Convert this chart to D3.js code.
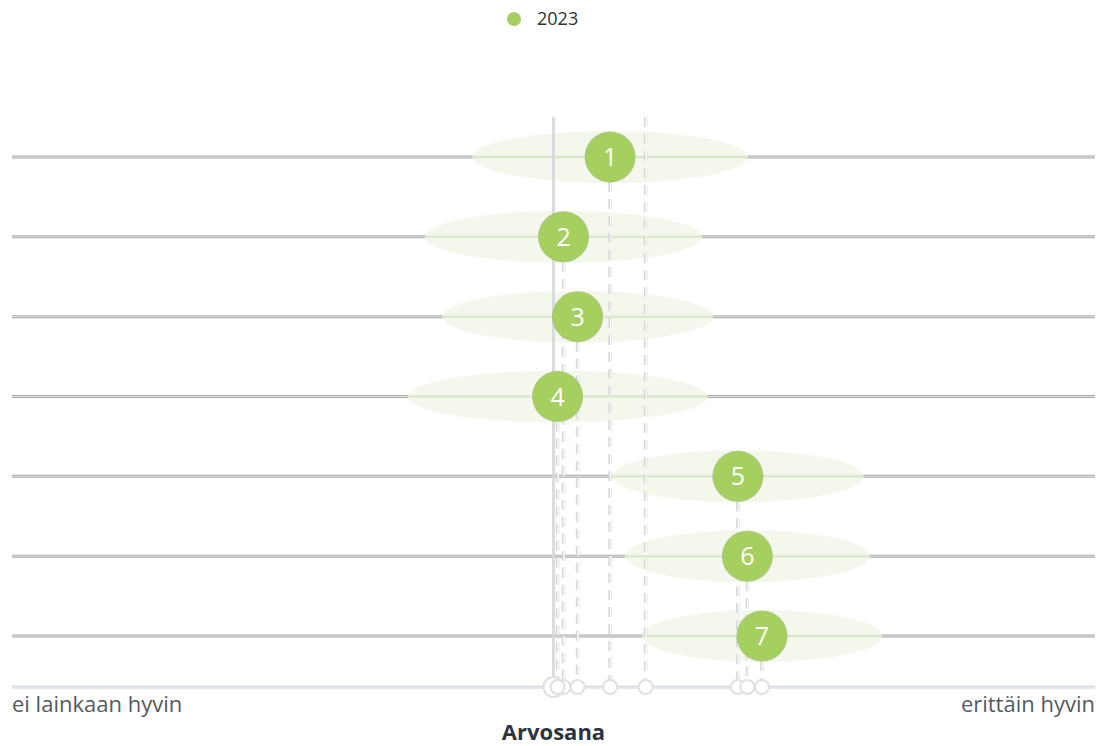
<!DOCTYPE html>
<html>
<head>
<meta charset="utf-8">
<script src="https://cdn.jsdelivr.net/npm/d3@7"></script>
<style>
  body { margin: 0; background: #fff; font-family: "Open Sans", sans-serif; }
</style>
</head>
<body>
<div id="chart"></div>
<script>
// data
var rows = ["1", "2", "3", "4", "5", "6", "7"];
var means = [3.209, 3.037, 3.089, 3.015, 3.681, 3.716, 3.770];
var spreads = [0.508, 0.512, 0.500, 0.554, 0.464, 0.452, 0.443];
var midValue = 3;
var averageValue = 3.34;
var seriesName = "2023";
var scaleLabels = ["ei lainkaan hyvin", "erittäin hyvin"];
var axisTitle = "Arvosana";

var width = 1097, height = 746;
var green = "#a5cf5f";

var svg = d3.select("#chart").append("svg")
  .attr("width", width)
  .attr("height", height);

var x = d3.scaleLinear().domain([1, 5]).range([12, 1095]);
var y = d3.scalePoint().domain(rows).range([157, 636]);
var axisY = 687, topY = 117;

var data = rows.map(function(r, i){
  return { row: r, mean: means[i], spread: spreads[i] };
});

// legend
svg.append("circle").attr("cx", 514).attr("cy", 19).attr("r", 7).attr("fill", green);
svg.append("text").attr("x", 537).attr("y", 25)
  .style("font-size", "18px").style("fill", "#333")
  .text(seriesName);

// row lines
var rowLines = svg.append("g");
rowLines.selectAll("line.outer").data(data).enter().append("line")
  .attr("x1", x(1)).attr("x2", x(5))
  .attr("y1", function(d){ return y(d.row); })
  .attr("y2", function(d){ return y(d.row); })
  .attr("stroke", "#a8aaac").attr("stroke-width", 3);
rowLines.selectAll("line.inner").data(data).enter().append("line")
  .attr("x1", x(1)).attr("x2", x(5))
  .attr("y1", function(d){ return y(d.row); })
  .attr("y2", function(d){ return y(d.row); })
  .attr("stroke", "#e4e4e4").attr("stroke-width", 1);

// bottom axis line
svg.append("line").attr("x1", x(1)).attr("x2", x(5)).attr("y1", axisY).attr("y2", axisY)
  .attr("stroke", "#d0d6da").attr("stroke-width", 3);
svg.append("line").attr("x1", x(1)).attr("x2", x(5)).attr("y1", axisY).attr("y2", axisY)
  .attr("stroke", "#eef1f3").attr("stroke-width", 1);

// spread ellipses
svg.selectAll("ellipse").data(data).enter().append("ellipse")
  .attr("cx", function(d){ return x(d.mean); })
  .attr("cy", function(d){ return y(d.row); })
  .attr("rx", function(d){ return x(d.mean + d.spread) - x(d.mean); })
  .attr("ry", 26)
  .attr("fill", "#f3f8eb")
  .attr("opacity", 0.95);

svg.selectAll("line.inrange").data(data).enter().append("line")
  .attr("x1", function(d){ return x(d.mean - d.spread); })
  .attr("x2", function(d){ return x(d.mean + d.spread); })
  .attr("y1", function(d){ return y(d.row); })
  .attr("y2", function(d){ return y(d.row); })
  .attr("stroke", "#d8e8c6").attr("stroke-width", 2);

// reference lines
svg.append("line").attr("x1", x(midValue)).attr("x2", x(midValue))
  .attr("y1", topY).attr("y2", axisY)
  .attr("stroke", "#d6dadd").attr("stroke-width", 3).attr("opacity", 0.9);

function dashed(xv, y1){
  svg.append("line").attr("x1", x(xv)).attr("x2", x(xv))
    .attr("y1", y1).attr("y2", axisY)
    .attr("stroke", "#cfd3d7").attr("stroke-width", 3.5)
    .attr("stroke-dasharray", "10,7").attr("opacity", 0.9);
  svg.append("line").attr("x1", x(xv) + 0.5).attr("x2", x(xv) + 0.5)
    .attr("y1", y1).attr("y2", axisY)
    .attr("stroke", "#fafafa").attr("stroke-width", 1.5)
    .attr("stroke-dasharray", "10,7");
}
dashed(averageValue, topY);
data.forEach(function(d){ dashed(d.mean, y(d.row) + 25); });

// bottom markers
svg.append("circle").attr("cx", x(midValue)).attr("cy", axisY).attr("r", 10)
  .attr("fill", "#fff").attr("stroke", "#dde1e4").attr("stroke-width", 2);
var marks = means.concat([averageValue]);
svg.selectAll("circle.mark").data(marks).enter().append("circle")
  .attr("cx", function(d){ return x(d); })
  .attr("cy", axisY).attr("r", 7)
  .attr("fill", "#fff").attr("stroke", "#dde1e4").attr("stroke-width", 2);

// mean circles
var g = svg.selectAll("g.pt").data(data).enter().append("g")
  .attr("transform", function(d){ return "translate(" + x(d.mean) + "," + y(d.row) + ")"; });
g.append("circle").attr("r", 25.5).attr("fill", "#7f9060").attr("opacity", 0.5);
g.append("circle").attr("r", 25).attr("fill", green);
g.append("text").attr("text-anchor", "middle").attr("dy", "0.36em")
  .style("font-size", "25px").style("fill", "#fff")
  .text(function(d){ return d.row; });

// scale labels
svg.append("text").attr("x", x(1)).attr("y", 712)
  .style("font-size", "22px").style("fill", "#555b60")
  .text(scaleLabels[0]);
svg.append("text").attr("x", x(5)).attr("y", 712).attr("text-anchor", "end")
  .style("font-size", "22px").style("fill", "#555b60")
  .text(scaleLabels[1]);
svg.append("text").attr("x", x(midValue)).attr("y", 740).attr("text-anchor", "middle")
  .style("font-size", "22px").style("font-weight", "bold").style("fill", "#2c3440")
  .text(axisTitle);
</script>
</body>
</html>
